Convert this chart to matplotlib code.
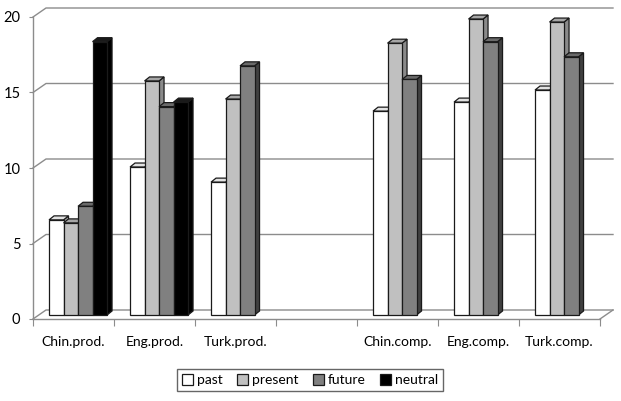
import matplotlib
matplotlib.use("Agg")
import matplotlib.pyplot as plt
from matplotlib.patches import Patch

categories = ["Chin.prod.", "Eng.prod.", "Turk.prod.", "", "Chin.comp.", "Eng.comp.", "Turk.comp."]
series = ["past", "present", "future", "neutral"]
past = [6.3, 9.8, 8.8, None, 13.5, 14.1, 14.9]
present = [6.1, 15.5, 14.3, None, 18.0, 19.6, 19.4]
future = [7.2, 13.8, 16.5, None, 15.6, 18.1, 17.1]
neutral = [18.1, 14.1, None, None, None, None, None]
yticks = [0, 5, 10, 15, 20]

front_col = ["#ffffff", "#c0c0c0", "#808080", "#000000"]
top_col = ["#e2e2e2", "#a6a6a6", "#6a6a6a", "#1a1a1a"]
side_col = ["#b0b0b0", "#8a8a8a", "#404040", "#000000"]
edge = "#1a1a1a"
grid = "#8c8c8c"

plt.rcParams["font.family"] = ["Lato", "DejaVu Sans"]
fig = plt.figure(figsize=(6.21, 4.01), dpi=100)
W, H = 621, 401
ax = fig.add_axes([33 / W, (H - 319) / H, 567 / W, 302 / H])
ax.set_xlim(-0.5, 6.5)
ax.set_ylim(0, 20)

# pixel -> data conversions
px_x = 7 / 567
px_y = 20 / 302
wall_dx, wall_dy = 13 * px_x, 9 * px_y
bar_dx, bar_dy = 5 * px_x, 4 * px_y
base = 4 * px_y
bw = 14.5 * px_x
start = -0.302

# back wall grid lines with left wall diagonals
for v in yticks:
    ax.plot([-0.5, -0.5 + wall_dx, 6.5 + wall_dx], [v, v + wall_dy, v + wall_dy],
            color=grid, lw=1, clip_on=False, zorder=1)
ax.plot([6.5, 6.5 + wall_dx], [0, wall_dy], color=grid, lw=1, clip_on=False, zorder=1)

data = [past, present, future, neutral]
for k in range(len(categories)):
    for i, vals in enumerate(data):
        v = vals[k]
        if v is None:
            continue
        x0 = k + start + i * bw
        x1 = x0 + bw
        t = base + v
        z = 3 + i * 0.1
        ax.fill([x1, x1, x1 + bar_dx, x1 + bar_dx], [base, t, t + bar_dy, base + bar_dy],
                facecolor=side_col[i], edgecolor=edge, lw=0.9, zorder=z, clip_on=False)
        ax.fill([x0, x1, x1 + bar_dx, x0 + bar_dx], [t, t, t + bar_dy, t + bar_dy],
                facecolor=top_col[i], edgecolor=edge, lw=0.9, zorder=z, clip_on=False)
        ax.bar(x0, v, width=bw, bottom=base, align="edge", color=front_col[i],
               edgecolor=edge, lw=0.9, zorder=z + 0.05, clip_on=False)

for s in ["top", "right"]:
    ax.spines[s].set_visible(False)
for s in ["left", "bottom"]:
    ax.spines[s].set_color(grid)
    ax.spines[s].set_linewidth(1)

ax.set_yticks(yticks)
ax.set_yticklabels([str(v) for v in yticks], fontsize=10.5)
ax.set_xticks([k - 0.5 for k in range(len(categories) + 1)])
ax.set_xticklabels([])
ax.set_xticks(range(len(categories)), minor=True)
ax.set_xticklabels(categories, minor=True, fontsize=10)
ax.tick_params(axis="x", which="major", length=5, color=grid, direction="out")
ax.tick_params(axis="x", which="minor", length=0, pad=12)
ax.tick_params(axis="y", length=3, color=grid, pad=6)

handles = [Patch(facecolor=front_col[i], edgecolor=edge, lw=0.9) for i in range(4)]
leg = fig.legend(handles, series, loc="center", bbox_to_anchor=(310 / W, 1 - 380 / H),
                 ncol=4, fontsize=10, frameon=True, fancybox=False, edgecolor="#404040",
                 handlelength=0.8, handleheight=0.8, handletextpad=0.3, columnspacing=1.0,
                 borderpad=0.35)
leg.get_frame().set_linewidth(1)

fig.savefig("out.png", dpi=100)
